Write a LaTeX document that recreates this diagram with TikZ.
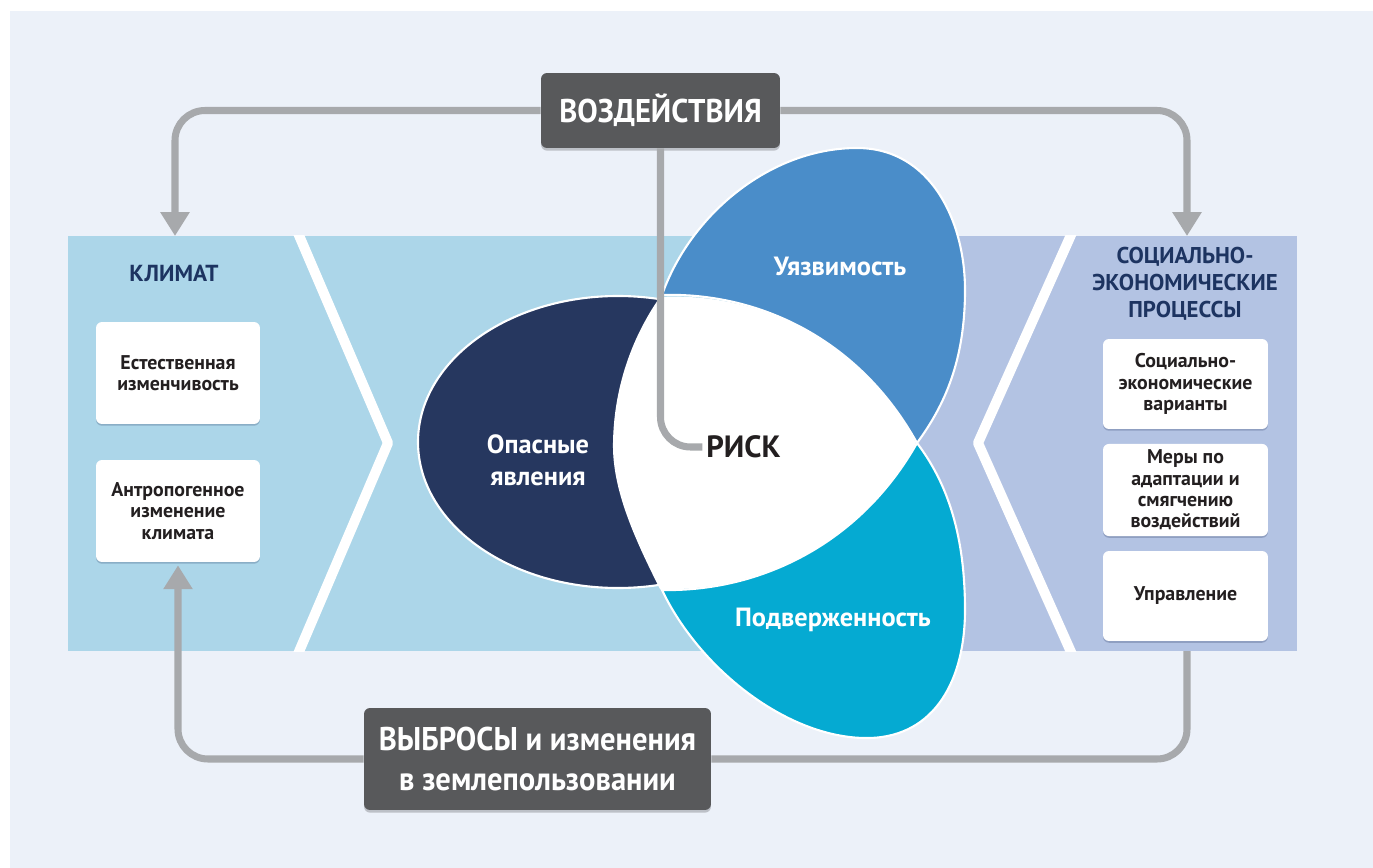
\documentclass[tikz,border=0pt]{standalone}
\usepackage{fontspec}
\setmainfont{PT Sans}
\newfontfamily\condfont[FakeStretch=0.93]{PT Sans}
\usetikzlibrary{arrows.meta,shadows}

\definecolor{bgcol}{HTML}{ECF1F9}
\definecolor{climcol}{HTML}{ACD6E9}
\definecolor{soccol}{HTML}{B3C3E3}
\definecolor{hazcol}{HTML}{26375F}
\definecolor{vulcol}{HTML}{4A8DC9}
\definecolor{expcol}{HTML}{05AAD2}
\definecolor{darkbox}{HTML}{58595B}
\definecolor{linecol}{HTML}{A7A9AC}
\definecolor{titlecol}{HTML}{1D3461}
\definecolor{textcol}{HTML}{231F20}

\tikzset{
  whitebox/.style={fill=white, rounded corners=0.12cm, align=center, text=textcol,
    font=\fontsize{11.3}{12.2}\selectfont\bfseries,
    drop shadow={shadow xshift=0pt, shadow yshift=-1pt, opacity=0.25, fill=hazcol}},
  darkbox/.style={fill=darkbox, rounded corners=0.12cm, align=center, text=white,
    font=\fontsize{18.7}{22.7}\selectfont\condfont\bfseries,
    drop shadow={shadow xshift=0pt, shadow yshift=-1.5pt, opacity=0.2, fill=black}},
  petal/.style={draw=white, line width=1.2pt},
  petaltext/.style={text=white, align=center, font=\fontsize{15}{18}\selectfont\bfseries},
  flow/.style={draw=linecol, line width=4pt, rounded corners=0.6cm},
  flowtip/.style={-{Triangle[length=13.6pt,width=15.9pt]}}
}

\begin{document}
\begin{tikzpicture}[x=0.02cm, y=-0.02cm]
  \useasboundingbox (0,0) rectangle (1373,868);
  \fill [white] (0,0) rectangle (1373,868);
  \fill [bgcol] (10,11) rectangle (1373,868);

  % panels
  \fill [climcol] (68,236) rectangle (912,651);
  \fill [soccol] (912,236) rectangle (1297,651);
  \begin{scope}
    \clip (68,236) rectangle (1297,651);
    \draw [white, line width=5.7pt, line join=round] (295,226) -- (388,443) -- (295,661);
    \draw [white, line width=5.7pt, line join=round] (1075,226) -- (978,443) -- (1075,661);
  \end{scope}

  % petals
  \fill [hazcol, petal] (618,442) ellipse [x radius=200, y radius=146];
  \fill [vulcol, petal] (662,295) .. controls (690,215) and (770,148) .. (857,148)
    .. controls (930,148) and (965,220) .. (965,290)
    .. controls (965,360) and (945,405) .. (917,443)
    .. controls (860,340) and (760,292) .. (662,295) -- cycle;
  \fill [expcol, petal] (662,590) .. controls (700,670) and (790,740) .. (870,738)
    .. controls (935,736) and (965,680) .. (965,610)
    .. controls (965,530) and (945,480) .. (917,443)
    .. controls (860,544) and (760,592) .. (662,590) -- cycle;
  \fill [white] (660,297) .. controls (760,292) and (860,340) .. (916,443)
    .. controls (860,544) and (760,592) .. (660,589)
    .. controls (630,530) and (612,485) .. (613,442)
    .. controls (614,390) and (630,340) .. (660,297) -- cycle;

  % labels
  \node [petaltext] (hazard) at (538,460) {Опасные\\явления};
  \node [petaltext] (vulner) at (840,266) {Уязвимость};
  \node [petaltext] (expos) at (833,620) {Подверженность};
  \node [anchor=west, inner sep=0, text=textcol, font=\fontsize{17.5}{20}\selectfont\bfseries] (risk) at (706,447) {РИСК};

  \node [text=titlecol, font=\fontsize{13.2}{14}\selectfont\bfseries] (climate) at (174,273) {КЛИМАТ};
  \node [text=titlecol, align=center, font=\fontsize{13}{15.3}\selectfont\bfseries] (socio) at (1185,284) {СОЦИАЛЬНО-\\ЭКОНОМИЧЕСКИЕ\\ПРОЦЕССЫ};

  \node [whitebox, minimum width=3.28cm, minimum height=2.04cm] (natural) at (178,373) {Естественная\\изменчивость};
  \node [whitebox, minimum width=3.28cm, minimum height=2.04cm] (anthro) at (178,511) {Антропогенное\\изменение\\климата};
  \node [whitebox, minimum width=3.3cm, minimum height=1.8cm] (scenario) at (1185.5,384) {Социально-\\экономические\\варианты};
  \node [whitebox, minimum width=3.3cm, minimum height=1.8cm] (adapt) at (1185.5,490) {Меры по\\адаптации и\\смягчению\\воздействий};
  \node [whitebox, minimum width=3.3cm, minimum height=1.8cm] (govern) at (1185.5,596) {Управление};

  \node [darkbox, minimum width=4.78cm, minimum height=1.5cm] (impacts) at (660.5,110.5) {ВОЗДЕЙСТВИЯ};
  \node [darkbox, minimum width=6.94cm, minimum height=2.04cm] (emiss) at (537.5,759) {ВЫБРОСЫ и изменения\\в землепользовании};

  \coordinate (climtop) at (175,236);
  \coordinate (soctop) at (1187,236);
  \coordinate (socbot) at (1187,651);

  % connectors
  \draw [flow, flowtip] (impacts.west) -| (climtop);
  \draw [flow, flowtip] (impacts.east) -| (soctop);
  \draw [flow] (impacts.south) |- ([xshift=-2pt]risk.west);
  \draw [flow, flowtip, shorten >=1.7pt] (emiss.west) -| (anthro.south);
  \draw [flow] (emiss.east) -| (socbot);
\end{tikzpicture}
\end{document}
